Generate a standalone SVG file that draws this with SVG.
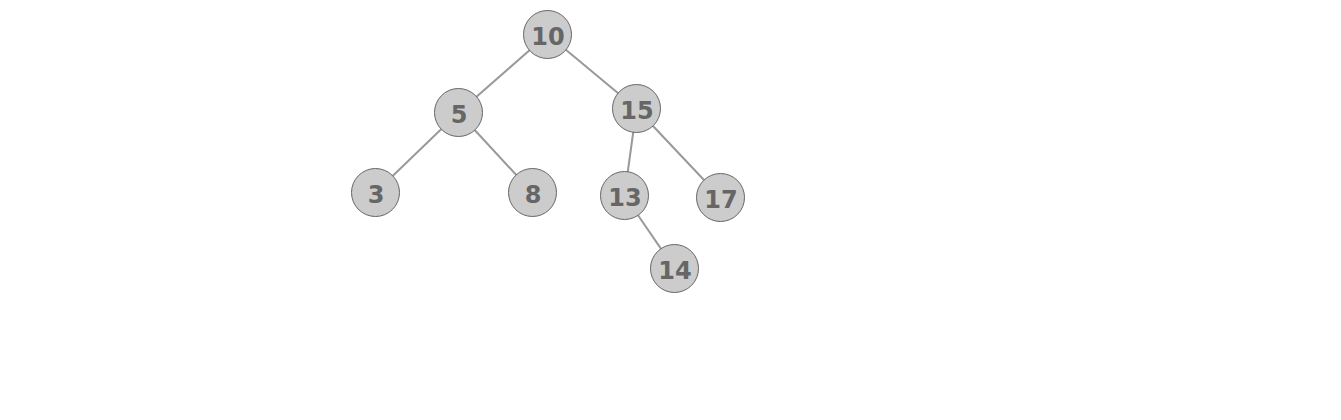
<svg xmlns="http://www.w3.org/2000/svg" width="1341" height="420" viewBox="0 0 1341 420">
<style>
.n circle{fill:#cccccc;stroke:#666666;stroke-width:1}
.n text{font-family:"DejaVu Sans",sans-serif;font-weight:bold;font-size:24px;fill:#666666;text-anchor:middle}
#edges line{stroke:#999999;stroke-width:2}
</style>
<rect width="1341" height="420" fill="#ffffff"/>
<g id="edges">
<line x1="547.5" y1="34.5" x2="458.5" y2="112.5"/>
<line x1="547.5" y1="34.5" x2="636.5" y2="108.5"/>
<line x1="458.5" y1="112.5" x2="375.5" y2="192.5"/>
<line x1="458.5" y1="112.5" x2="532.5" y2="192.5"/>
<line x1="636.5" y1="108.5" x2="624.5" y2="195.5"/>
<line x1="636.5" y1="108.5" x2="720.5" y2="197.5"/>
<line x1="624.5" y1="195.5" x2="674.5" y2="268.5"/>
</g>
<g id="n10" class="n"><circle cx="547.5" cy="34.5" r="24"/><text x="548" y="44.5">10</text></g>
<g id="n5" class="n"><circle cx="458.5" cy="112.5" r="24"/><text x="459" y="122.5">5</text></g>
<g id="n15" class="n"><circle cx="636.5" cy="108.5" r="24"/><text x="637" y="118.5">15</text></g>
<g id="n3" class="n"><circle cx="375.5" cy="192.5" r="24"/><text x="376" y="202.5">3</text></g>
<g id="n8" class="n"><circle cx="532.5" cy="192.5" r="24"/><text x="533" y="202.5">8</text></g>
<g id="n13" class="n"><circle cx="624.5" cy="195.5" r="24"/><text x="625" y="205.5">13</text></g>
<g id="n17" class="n"><circle cx="720.5" cy="197.5" r="24"/><text x="721" y="207.5">17</text></g>
<g id="n14" class="n"><circle cx="674.5" cy="268.5" r="24"/><text x="675" y="278.5">14</text></g>
</svg>
